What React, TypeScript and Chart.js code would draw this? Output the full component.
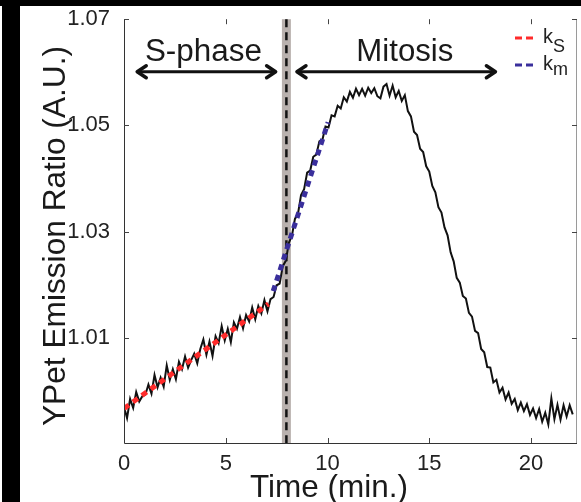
import React, { useEffect, useRef } from "react";
import { Chart, registerables } from "chart.js";

Chart.register(...registerables);

// ---- data ----
const timeMin = [
  0, 0.15, 0.3, 0.45, 0.6, 0.75, 0.9, 1.05, 1.2, 1.35, 1.5, 1.65, 1.8, 1.95, 2.1, 2.25, 2.4, 2.55, 2.7, 2.85,
  3, 3.15, 3.3, 3.45, 3.6, 3.75, 3.9, 4.05, 4.2, 4.35, 4.5, 4.65, 4.8, 4.95, 5.1, 5.25, 5.4, 5.55, 5.7, 5.85,
  6, 6.15, 6.3, 6.45, 6.6, 6.75, 6.9, 7.05, 7.2, 7.35, 7.5, 7.65, 7.8, 7.95, 8.1, 8.25, 8.4, 8.55, 8.7, 8.85,
  9, 9.15, 9.3, 9.45, 9.6, 9.75, 9.9, 10.05, 10.2, 10.35, 10.5, 10.65, 10.8, 10.95, 11.1, 11.25, 11.4, 11.55, 11.7, 11.85,
  12, 12.15, 12.3, 12.45, 12.6, 12.75, 12.9, 13.05, 13.2, 13.35, 13.5, 13.65, 13.8, 13.95, 14.1, 14.25, 14.4, 14.55, 14.7, 14.85,
  15, 15.15, 15.3, 15.45, 15.6, 15.75, 15.9, 16.05, 16.2, 16.35, 16.5, 16.65, 16.8, 16.95, 17.1, 17.25, 17.4, 17.55, 17.7, 17.85,
  18, 18.15, 18.3, 18.45, 18.6, 18.75, 18.9, 19.05, 19.2, 19.35, 19.5, 19.65, 19.8, 19.95, 20.1, 20.25, 20.4, 20.55, 20.7, 20.85,
  21, 21.15, 21.3, 21.45, 21.6, 21.75, 21.9, 22.05,
];

const emissionRatio = [
  0.9970, 0.9949, 0.9985, 0.9968, 0.9998, 0.9980, 0.9990, 0.9993, 1.0012, 0.9995,
  1.0030, 1.0007, 1.0025, 1.0008, 1.0048, 1.0021, 1.0041, 1.0022, 1.0055, 1.0041,
  1.0065, 1.0044, 1.0058, 1.0070, 1.0052, 1.0079, 1.0097, 1.0068, 1.0093, 1.0066,
  1.0103, 1.0090, 1.0122, 1.0095, 1.0117, 1.0092, 1.0129, 1.0117, 1.0139, 1.0118,
  1.0143, 1.0131, 1.0157, 1.0135, 1.0160, 1.0146, 1.0171, 1.0150, 1.0173,
  1.0177, 1.0199, 1.0202, 1.0235, 1.0245, 1.0279, 1.0292, 1.0324, 1.0334, 1.0369,
  1.0380, 1.0411, 1.0415, 1.0441, 1.0445, 1.0470, 1.0473, 1.0498, 1.0496, 1.0519,
  1.0517, 1.0537, 1.0532, 1.0553, 1.0545, 1.0563, 1.0552, 1.0569, 1.0557, 1.0569,
  1.0556, 1.0571, 1.0561, 1.0570, 1.0555, 1.0551, 1.0573, 1.0578, 1.0556, 1.0575,
  1.0553, 1.0565, 1.0546, 1.0557, 1.0527, 1.0517, 1.0488, 1.0482, 1.0456, 1.0450,
  1.0423, 1.0413, 1.0386, 1.0374, 1.0346, 1.0336, 1.0308, 1.0293, 1.0261, 1.0244,
  1.0213, 1.0204, 1.0179, 1.0174, 1.0147, 1.0140, 1.0113, 1.0109, 1.0079, 1.0073,
  1.0045, 1.0044, 1.0016, 1.0021, 0.9997, 1.0006, 0.9984, 0.9997, 0.9976, 0.9985,
  0.9964, 0.9978, 0.9962, 0.9975, 0.9955, 0.9967, 0.9949, 0.9966, 0.9942, 0.9959,
  0.9937, 0.9986, 0.9947, 0.9974, 0.9946, 0.9973, 0.9952, 0.9973, 0.9956,
];

const fitSTime = [0, 7.1];
const fitSValue = [0.9967, 1.0164];
const fitMTime = [7.33, 10.03];
const fitMValue = [1.0188, 1.0506];

const xTickValues = [0, 5, 10, 15, 20];
const yTickValues = [1.01, 1.03, 1.05, 1.07];

const transitionTime = 7.98;
const phaseNames = ["S-phase", "Mitosis"];
const phaseStart = [0.6, 8.45];
const phaseEnd = [7.5, 18.3];
const phaseLabelCenter = [3.9, 13.8];
const phaseArrowLevel = 1.0601;

const legendNames = ["k", "k"];
const legendSubs = ["S", "m"];
const legendColors = ["#ff2b2b", "#3a2f9c"];

const xTitle = "Time (min.)";
const yTitle = "YPet Emission Ratio (A.U.)";

const FONT = '"Liberation Sans", Arial, Helvetica, sans-serif';

function fitFont(ctx: CanvasRenderingContext2D, text: string, target: number, base: number) {
  ctx.font = `${base}px ${FONT}`;
  const w = ctx.measureText(text).width || target;
  const size = (base * target) / w;
  ctx.font = `${size.toFixed(2)}px ${FONT}`;
}

const decoPlugin = {
  id: "deco",
  beforeDraw(chart: any) {
    const ctx = chart.ctx;
    ctx.save();
    ctx.fillStyle = "#ffffff";
    ctx.fillRect(0, 0, chart.width, chart.height);
    ctx.fillStyle = "#000000";
    ctx.fillRect(0, 0, chart.width, 6);
    ctx.fillRect(2, 0, 18, chart.height);
    ctx.restore();
  },
  beforeDatasetsDraw(chart: any) {
    const { ctx, chartArea: a, scales } = chart;
    const px = scales.x.getPixelForValue(transitionTime);
    ctx.save();
    ctx.fillStyle = "#b9b1ae";
    ctx.fillRect(px - 4.5, a.top, 9, a.bottom - a.top);
    ctx.setLineDash([8, 5]);
    ctx.strokeStyle = "#111";
    ctx.lineWidth = 2.5;
    ctx.beginPath();
    ctx.moveTo(px, a.top);
    ctx.lineTo(px, a.bottom);
    ctx.stroke();
    ctx.restore();
  },
  afterDraw(chart: any) {
    const { ctx, chartArea: a, scales } = chart;
    const xs = scales.x;
    const ys = scales.y;
    ctx.save();
    // axes box
    ctx.lineWidth = 1;
    ctx.strokeStyle = "#333";
    ctx.beginPath();
    ctx.moveTo(a.left + 0.5, a.top);
    ctx.lineTo(a.left + 0.5, a.bottom + 0.5);
    ctx.lineTo(a.right, a.bottom + 0.5);
    ctx.stroke();
    ctx.strokeStyle = "#9a9a9a";
    ctx.beginPath();
    ctx.moveTo(a.right - 0.5, a.top);
    ctx.lineTo(a.right - 0.5, a.bottom);
    ctx.stroke();
    // inward ticks
    ctx.strokeStyle = "#444";
    xTickValues.forEach((v) => {
      if (v === 0) return;
      const p = Math.round(xs.getPixelForValue(v)) + 0.5;
      ctx.beginPath();
      ctx.moveTo(p, a.bottom);
      ctx.lineTo(p, a.bottom - 5);
      ctx.moveTo(p, a.top);
      ctx.lineTo(p, a.top + 5);
      ctx.stroke();
    });
    yTickValues.forEach((v) => {
      const p = Math.round(ys.getPixelForValue(v)) + 0.5;
      ctx.beginPath();
      ctx.moveTo(a.left, p);
      ctx.lineTo(a.left + 5, p);
      ctx.moveTo(a.right, p);
      ctx.lineTo(a.right - 5, p);
      ctx.stroke();
    });

    // phase arrows + labels
    const ay = ys.getPixelForValue(phaseArrowLevel);
    const labelWidths = [117, 97];
    phaseNames.forEach((name, i) => {
      const x1 = xs.getPixelForValue(phaseStart[i]);
      const x2 = xs.getPixelForValue(phaseEnd[i]);
      ctx.strokeStyle = "#111";
      ctx.lineWidth = 3;
      ctx.setLineDash([]);
      ctx.beginPath();
      ctx.moveTo(x1 + 3, ay);
      ctx.lineTo(x2 - 3, ay);
      ctx.stroke();
      ctx.lineWidth = 3.5;
      ctx.lineCap = "round";
      ctx.lineJoin = "round";
      ctx.beginPath();
      ctx.moveTo(x1 + 10, ay - 6);
      ctx.lineTo(x1 + 1, ay);
      ctx.lineTo(x1 + 10, ay + 6);
      ctx.moveTo(x2 - 10, ay - 6);
      ctx.lineTo(x2 - 1, ay);
      ctx.lineTo(x2 - 10, ay + 6);
      ctx.stroke();
      ctx.lineCap = "butt";
      fitFont(ctx, name, labelWidths[i], 31);
      ctx.textAlign = "center";
      ctx.textBaseline = "alphabetic";
      ctx.fillStyle = "#1a1a1a";
      ctx.fillText(name, xs.getPixelForValue(phaseLabelCenter[i]), ay - 11);
    });

    // legend
    legendNames.forEach((nm, i) => {
      const baseY = 43 + i * 27;
      const ly = baseY - 5;
      ctx.strokeStyle = legendColors[i];
      ctx.lineWidth = 3;
      ctx.setLineDash([7, 4]);
      ctx.beginPath();
      ctx.moveTo(515, ly);
      ctx.lineTo(533, ly);
      ctx.stroke();
      ctx.setLineDash([]);
      ctx.fillStyle = "#222";
      ctx.textAlign = "left";
      ctx.textBaseline = "alphabetic";
      ctx.font = `20px ${FONT}`;
      ctx.fillText(nm, 543, baseY);
      ctx.font = `18px ${FONT}`;
      ctx.fillText(legendSubs[i], 553, baseY + (i === 0 ? 9 : 5));
    });

    // axis titles
    ctx.fillStyle = "#1a1a1a";
    ctx.textAlign = "center";
    ctx.textBaseline = "alphabetic";
    fitFont(ctx, xTitle, 158, 32);
    ctx.fillText(xTitle, 329, 497);
    fitFont(ctx, yTitle, 380, 32);
    ctx.translate(65, 236);
    ctx.rotate(-Math.PI / 2);
    ctx.fillText(yTitle, 0, 0);
    ctx.restore();
  },
};

export default function App() {
  const ref = useRef<HTMLCanvasElement | null>(null);
  useEffect(() => {
    if (!ref.current) return;
    const chart = new Chart(ref.current, {
      type: "line",
      data: {
        datasets: [
          {
            label: "ratio",
            data: timeMin.map((t, i) => ({ x: t, y: emissionRatio[i] })),
            borderColor: "#111111",
            borderWidth: 2,
            pointRadius: 0,
            tension: 0,
            order: 3,
          },
          {
            label: "kS",
            data: fitSTime.map((t, i) => ({ x: t, y: fitSValue[i] })),
            borderColor: legendColors[0],
            borderWidth: 5,
            borderDash: [6, 5],
            pointRadius: 0,
            order: 1,
          },
          {
            label: "km",
            data: fitMTime.map((t, i) => ({ x: t, y: fitMValue[i] })),
            borderColor: legendColors[1],
            borderWidth: 5,
            borderDash: [6, 5],
            pointRadius: 0,
            order: 1,
          },
        ],
      },
      options: {
        responsive: false,
        animation: false,
        devicePixelRatio: 1,
        layout: { padding: { left: 0, right: 4, top: 16, bottom: 0 } },
        plugins: { legend: { display: false }, tooltip: { enabled: false } },
        scales: {
          x: {
            type: "linear",
            min: 0,
            max: 22.26,
            grid: { display: false },
            border: { display: false },
            afterFit: (s: any) => {
              s.height = 59;
            },
            afterBuildTicks: (s: any) => {
              s.ticks = xTickValues.map((v) => ({ value: v }));
            },
            ticks: {
              font: { family: FONT, size: 22 },
              color: "#222",
              padding: 0,
              maxRotation: 0,
              callback: (v: any) => String(v),
            },
          },
          y: {
            type: "linear",
            min: 0.9902,
            max: 1.07,
            grid: { display: false },
            border: { display: false },
            afterFit: (s: any) => {
              s.width = 124;
            },
            afterBuildTicks: (s: any) => {
              s.ticks = yTickValues.map((v) => ({ value: v }));
            },
            ticks: {
              font: { family: FONT, size: 22 },
              color: "#222",
              padding: 6,
              callback: (v: any) => Number(v).toFixed(2),
            },
          },
        },
      },
      plugins: [decoPlugin],
    });
    return () => chart.destroy();
  }, []);
  return (
    <div style={{ position: "absolute", left: 0, top: 0, width: 581, height: 502 }}>
      <canvas ref={ref} width={581} height={502} style={{ display: "block", width: 581, height: 502 }} />
    </div>
  );
}
